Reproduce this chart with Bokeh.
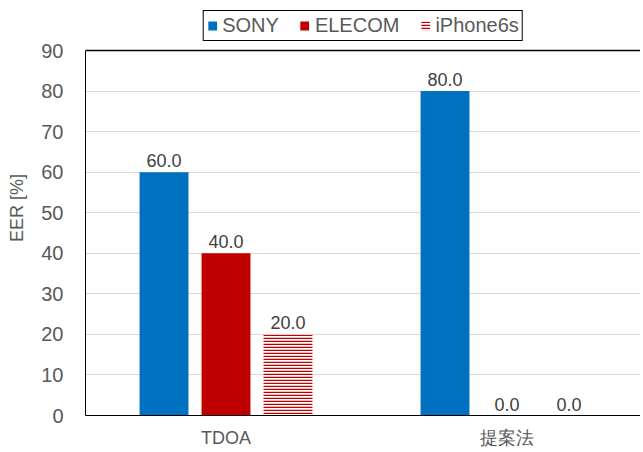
from bokeh.plotting import figure
from bokeh.models import (ColumnDataSource, Range1d, FixedTicker, Legend, LegendItem,
                          Span, LabelSet)
from bokeh.core.properties import value
from bokeh.embed import file_html
from bokeh.resources import INLINE

categories = ["TDOA", "提案法"]
series = ["SONY", "ELECOM", "iPhone6s"]
sony = [60.0, 80.0]
elecom = [40.0, 0.0]
iphone = [20.0, 0.0]
y_ticks = [0, 10, 20, 30, 40, 50, 60, 70, 80, 90]
y_max = 90

FONT = "Liberation Sans"
TXT = "#595959"
colors = ["#0070C0", "#C00000", "#C00000"]
offsets = [-0.2206, 0.0, 0.2206]
bar_w = 0.174
centers = [0.5 + i for i in range(len(categories))]

# frame spans the whole top so the legend (drawn in the frame) stays visible;
# the plotted area is 0..90, the room above it holds the legend
p = figure(width=640, height=450, output_backend="svg", toolbar_location=None,
           x_range=Range1d(0, 1.975), y_range=Range1d(0, 102.33))
p.min_border_left = 85
p.min_border_top = 0
p.min_border_right = 0
p.min_border_bottom = 35
p.outline_line_color = None
p.background_fill_color = "white"

renderers = []
for k, vals in enumerate([sony, elecom, iphone]):
    src = ColumnDataSource(dict(x=[c + offsets[k] for c in centers], top=vals,
                                lab=[f"{v:.1f}" for v in vals]))
    if k == 2:
        r = p.vbar(x="x", top="top", width=bar_w, source=src, fill_color="white",
                   line_color=None, hatch_pattern="horizontal_line",
                   hatch_color=colors[k], hatch_scale=3, hatch_weight=1.5)
    else:
        r = p.vbar(x="x", top="top", width=bar_w, source=src, fill_color=colors[k],
                   line_color=None)
    renderers.append(r)
    p.add_layout(LabelSet(x="x", y="top", text="lab", source=src, text_align="center",
                          text_baseline="bottom", y_offset=5, text_font=value(FONT),
                          text_font_size=value("18px"), text_color=value("#404040")))

p.add_layout(Span(location=y_max, dimension="width", line_color="black", line_width=1.5))

p.yaxis.ticker = FixedTicker(ticks=y_ticks)
p.yaxis.bounds = (0, y_max)
p.yaxis.axis_label = "EER [%]"
p.yaxis.axis_label_text_font = FONT
p.yaxis.axis_label_text_font_size = "18px"
p.yaxis.axis_label_text_font_style = "normal"
p.yaxis.axis_label_text_color = TXT
p.yaxis.axis_label_standoff = 11
p.yaxis.major_label_text_font = FONT
p.yaxis.major_label_text_font_size = "20px"
p.yaxis.major_label_text_color = TXT
p.yaxis.major_label_standoff = 16
p.yaxis.major_tick_line_color = None
p.yaxis.minor_tick_line_color = None
p.yaxis.axis_line_color = "black"

p.xaxis.ticker = FixedTicker(ticks=centers)
p.xaxis.major_label_overrides = {c: n for c, n in zip(centers, categories)}
p.xaxis.major_label_text_font = FONT
p.xaxis.major_label_text_font_size = "18px"
p.xaxis.major_label_text_color = TXT
p.xaxis.major_label_standoff = 6
p.xaxis.major_tick_line_color = None
p.xaxis.minor_tick_line_color = None
p.xaxis.axis_line_color = "black"

p.xgrid.grid_line_color = None
p.ygrid.grid_line_color = "#D9D9D9"
p.ygrid.ticker = FixedTicker(ticks=y_ticks)

legend = Legend(items=[LegendItem(label=s, renderers=[r]) for s, r in zip(series, renderers)],
                orientation="horizontal", location="top_center")
legend.label_text_font = FONT
legend.label_text_font_size = "20px"
legend.label_text_color = TXT
legend.border_line_color = "black"
legend.border_line_alpha = 1.0
legend.border_line_width = 1
legend.glyph_width = 11
legend.glyph_height = 11
legend.label_standoff = 5
legend.spacing = 20
legend.padding = 3
legend.margin = 10
legend.background_fill_alpha = 1
p.add_layout(legend, "center")

open("out.html", "w").write(file_html(p, INLINE))
